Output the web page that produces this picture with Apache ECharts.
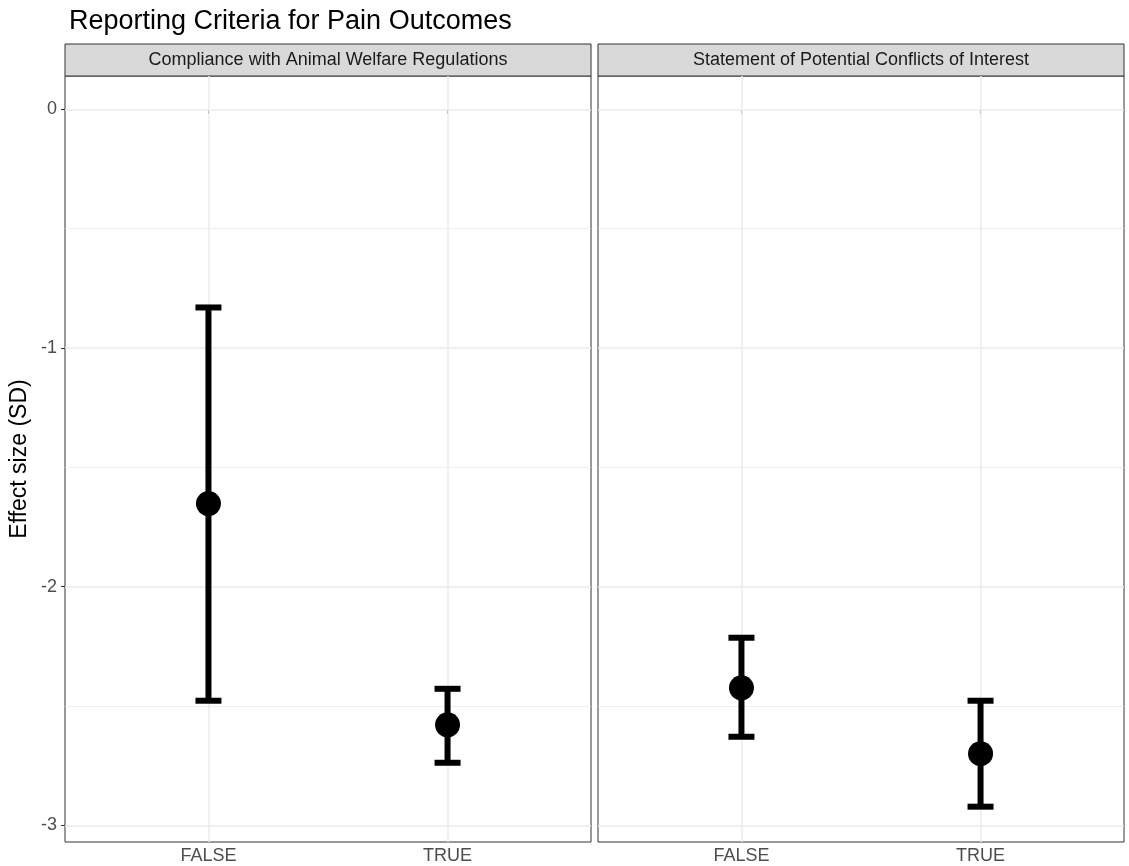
<!DOCTYPE html>
<html>
<head>
<meta charset="utf-8">
<script src="https://cdn.jsdelivr.net/npm/echarts@6/dist/echarts.min.js"></script>
<style>html,body{margin:0;padding:0;background:#fff}#chart{width:1129px;height:866px}</style>
</head>
<body>
<div id="chart"></div>
<script>
// facet panels and categories
var panels = ['Compliance with Animal Welfare Regulations', 'Statement of Potential Conflicts of Interest'];
var categories = ['FALSE', 'TRUE'];
// estimates per panel: [mean, lower, upper] for FALSE, TRUE
var means = [[-1.652, -2.579], [-2.424, -2.700]];
var lowers = [[-2.478, -2.738], [-2.629, -2.922]];
var uppers = [[-0.830, -2.428], [-2.214, -2.478]];
var yTicks = [0, -1, -2, -3];
var yMinor = [-0.5, -1.5, -2.5];

var chart = echarts.init(document.getElementById('chart'));
var font = 'Liberation Sans, Arial, sans-serif';
var grids = [], xAxes = [], yAxes = [], series = [], graphics = [];
var lefts = [65, 598], pw = 526, ptop = 76, ph = 766;

function gridLines() {
  var d = [];
  yMinor.forEach(function (v) { d.push({yAxis: v, lineStyle: {width: 0.8}}); });
  yTicks.forEach(function (v) { d.push({yAxis: v, lineStyle: {width: 1.5}}); });
  [1, 2].forEach(function (v) { d.push({xAxis: v, lineStyle: {width: 1.5}}); });
  return d;
}

for (var p = 0; p < 2; p++) {
  grids.push({left: lefts[p], top: ptop, width: pw, height: ph, show: true, borderColor: '#333', borderWidth: 1, backgroundColor: '#fff'});
  xAxes.push({
    type: 'value', gridIndex: p, min: 0.4, max: 2.6,
    axisLine: {show: false}, splitLine: {show: false},
    axisTick: {show: true, customValues: [1, 2], length: 4, lineStyle: {color: '#333'}},
    axisLabel: {customValues: [1, 2], formatter: function (v) { return categories[Math.round(v) - 1]; },
      color: '#4d4d4d', fontSize: 18, fontFamily: font, margin: 5}
  });
  yAxes.push({
    type: 'value', gridIndex: p, min: -3.07, max: 0.14,
    axisLine: {show: false}, splitLine: {show: false},
    axisTick: {show: p === 0, customValues: yTicks, length: 4, lineStyle: {color: '#333'}},
    axisLabel: {show: p === 0, customValues: yTicks, color: '#4d4d4d', fontSize: 18, fontFamily: font, margin: 8},
    name: p === 0 ? 'Effect size (SD)' : '', nameLocation: 'middle', nameGap: 34,
    nameTextStyle: {fontSize: 23, color: '#000', fontFamily: font}
  });
  var pts = [];
  for (var i = 0; i < 2; i++) pts.push([i + 1, means[p][i], lowers[p][i], uppers[p][i]]);
  series.push({
    type: 'custom', xAxisIndex: p, yAxisIndex: p, data: pts, z: 3,
    renderItem: function (params, api) {
      var x = api.value(0);
      var lo = api.coord([x, api.value(2)]), hi = api.coord([x, api.value(3)]);
      var cw = 13;
      var st = {stroke: '#000', lineWidth: 6};
      return {type: 'group', children: [
        {type: 'line', shape: {x1: lo[0], y1: lo[1], x2: hi[0], y2: hi[1]}, style: st},
        {type: 'line', shape: {x1: lo[0] - cw, y1: lo[1], x2: lo[0] + cw, y2: lo[1]}, style: st},
        {type: 'line', shape: {x1: hi[0] - cw, y1: hi[1], x2: hi[0] + cw, y2: hi[1]}, style: st}
      ]};
    }
  });
  series.push({
    type: 'scatter', xAxisIndex: p, yAxisIndex: p, z: 4, symbolSize: 25,
    itemStyle: {color: '#000', opacity: 1},
    data: pts.map(function (d) { return [d[0], d[1]]; }),
    markLine: {silent: true, symbol: 'none', label: {show: false}, z: 1, animation: false,
      lineStyle: {color: '#ebebeb', type: 'solid'}, data: gridLines()}
  });
  graphics.push({type: 'rect', shape: {x: lefts[p], y: 44, width: pw, height: 32},
    style: {fill: '#d9d9d9', stroke: '#333', lineWidth: 1}});
  graphics.push({type: 'text', x: lefts[p] + pw / 2, y: 60,
    style: {text: panels[p], fill: '#1a1a1a', fontSize: 18, fontFamily: font, align: 'center', verticalAlign: 'middle'}});
}

chart.setOption({
  animation: false,
  title: {text: 'Reporting Criteria for Pain Outcomes', left: 64, top: 3,
    textStyle: {fontSize: 27, fontWeight: 'normal', color: '#000', fontFamily: font}},
  grid: grids, xAxis: xAxes, yAxis: yAxes, series: series, graphic: graphics
});
</script>
</body>
</html>
